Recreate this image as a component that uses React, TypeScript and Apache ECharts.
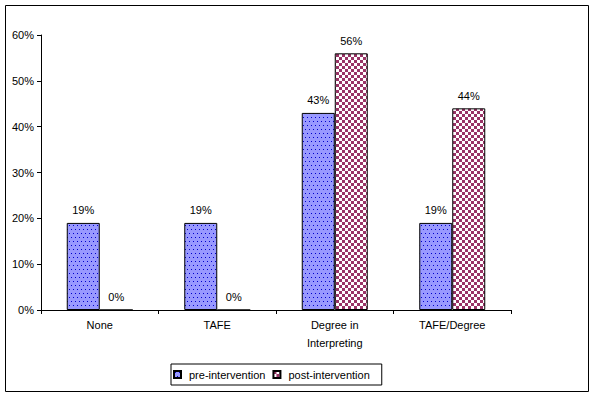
import React, { useEffect, useRef } from "react";
import * as echarts from "echarts";

const categories = ["None", "TAFE", "Degree in\nInterpreting", "TAFE/Degree"];
const preValues = [19, 19, 43, 19];
const postValues = [0, 0, 56, 44];
const seriesNames = ["pre-intervention", "post-intervention"];

const FONT = "'Liberation Sans', Arial, sans-serif";

function makeDots(): HTMLCanvasElement {
  const c = document.createElement("canvas");
  c.width = 4;
  c.height = 8;
  const g = c.getContext("2d")!;
  g.fillStyle = "#9999FF";
  g.fillRect(0, 0, 4, 8);
  g.fillStyle = "#0000CC";
  g.fillRect(1, 1, 1, 1);
  g.fillRect(3, 5, 1, 1);
  return c;
}

function makeChecker(): HTMLCanvasElement {
  const c = document.createElement("canvas");
  const s = 3;
  c.width = s * 2;
  c.height = s * 2;
  const g = c.getContext("2d")!;
  g.fillStyle = "#FFFFFF";
  g.fillRect(0, 0, s * 2, s * 2);
  g.fillStyle = "#993366";
  g.fillRect(0, 0, s, s);
  g.fillRect(s, s, s, s);
  return c;
}

export default function App() {
  const ref = useRef<HTMLDivElement>(null);
  useEffect(() => {
    if (!ref.current) return;
    const chart = echarts.init(ref.current, undefined, { renderer: "svg" });
    const dots = { image: makeDots(), repeat: "repeat" } as any;
    const checker = { image: makeChecker(), repeat: "repeat" } as any;
    const label = {
      show: true,
      position: "top",
      distance: 7,
      color: "#000",
      fontFamily: FONT,
      fontSize: 11,
      formatter: (p: any) => p.value + "%",
    };
    chart.setOption({
      animation: false,
      backgroundColor: "#fff",
      textStyle: { fontFamily: FONT, fontSize: 11, color: "#000" },
      graphic: [
        {
          type: "rect",
          shape: { x: 5.5, y: 5.5, width: 583, height: 386 },
          style: { fill: "none", stroke: "#000", lineWidth: 1 },
          silent: true,
        },
      ],
      grid: { left: 41, right: 84, top: 35, bottom: 87 },
      legend: {
        left: 171,
        top: 364,
        padding: [5, 12, 5, 2],
        borderColor: "#000",
        borderWidth: 1,
        itemWidth: 7,
        itemHeight: 7,
        itemGap: 7,
        icon: "rect",
        textStyle: { fontFamily: FONT, fontSize: 11, color: "#000", padding: [0, 0, 0, 3] },
        data: seriesNames,
      },
      xAxis: {
        type: "category",
        data: categories,
        axisLine: { lineStyle: { color: "#000", width: 1 } },
        axisTick: { show: true, length: 4, lineStyle: { color: "#000" } },
        axisLabel: { color: "#000", fontFamily: FONT, fontSize: 11, margin: 6, lineHeight: 18 },
      },
      yAxis: {
        type: "value",
        min: 0,
        max: 60,
        interval: 10,
        axisLine: { show: true, lineStyle: { color: "#000", width: 1 } },
        axisTick: { show: true, length: 4, lineStyle: { color: "#000" } },
        splitLine: { show: false },
        axisLabel: { color: "#000", fontFamily: FONT, fontSize: 11, margin: 7, formatter: "{value}%" },
      },
      series: [
        {
          name: seriesNames[0],
          type: "bar",
          data: preValues,
          barWidth: 33,
          barGap: "0%",
          itemStyle: { color: dots, borderColor: "#000", borderWidth: 1 },
          label,
        },
        {
          name: seriesNames[1],
          type: "bar",
          data: postValues,
          barWidth: 33,
          barGap: "0%",
          itemStyle: { color: checker, borderColor: "#000", borderWidth: 1 },
          label,
        },
      ],
    });
    return () => chart.dispose();
  }, []);
  return (
    <div
      ref={ref}
      style={{ width: 595, height: 397, position: "fixed", left: 0, top: 0 }}
    />
  );
}
